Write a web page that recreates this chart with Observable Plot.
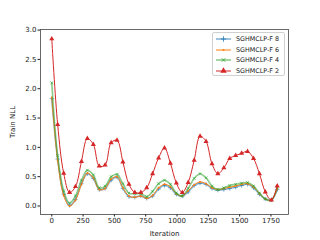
<!DOCTYPE html>
<html><head><meta charset="utf-8">
<script src="https://cdn.jsdelivr.net/npm/d3@7"></script>
<script src="https://cdn.jsdelivr.net/npm/@observablehq/plot@0.6"></script>
<style>
body{margin:0;background:#fff;}
#wrap{position:relative;width:320px;height:240px;font-family:"DejaVu Sans",sans-serif;}
#legend{position:absolute;left:212px;top:32px;width:73px;height:44px;border:0.8px solid #d0d0d0;border-radius:2px;background:rgba(255,255,255,0.85);font-size:6.4px;color:#222;box-sizing:border-box;}
.row{position:absolute;left:2px;height:10px;display:flex;align-items:center;white-space:nowrap;}
.row svg{margin-right:4px;}
</style></head><body><div id="wrap"></div>
<script>
const iterations = [0, 47, 95, 142, 189, 237, 284, 332, 379, 426, 474, 521, 568, 616, 663, 711, 758, 805, 853, 900, 947, 995, 1042, 1089, 1137, 1184, 1232, 1279, 1326, 1374, 1421, 1468, 1516, 1563, 1611, 1658, 1705, 1753, 1800];
const nllF8 = [1.83, 0.80, 0.20, 0.01, 0.11, 0.38, 0.55, 0.47, 0.28, 0.30, 0.44, 0.49, 0.30, 0.16, 0.15, 0.17, 0.13, 0.17, 0.29, 0.35, 0.31, 0.20, 0.17, 0.24, 0.35, 0.39, 0.37, 0.30, 0.27, 0.28, 0.30, 0.32, 0.35, 0.37, 0.31, 0.20, 0.12, 0.10, 0.28];
const nllF6 = [1.85, 0.78, 0.18, 0.00, 0.10, 0.37, 0.56, 0.48, 0.28, 0.30, 0.46, 0.50, 0.31, 0.17, 0.15, 0.17, 0.13, 0.18, 0.31, 0.37, 0.33, 0.21, 0.17, 0.26, 0.36, 0.41, 0.38, 0.31, 0.28, 0.30, 0.32, 0.34, 0.37, 0.38, 0.32, 0.21, 0.12, 0.10, 0.29];
const nllF4 = [2.10, 0.86, 0.26, 0.05, 0.17, 0.44, 0.61, 0.53, 0.31, 0.34, 0.50, 0.54, 0.38, 0.22, 0.21, 0.21, 0.16, 0.25, 0.38, 0.44, 0.37, 0.22, 0.17, 0.30, 0.47, 0.55, 0.48, 0.34, 0.28, 0.31, 0.35, 0.37, 0.39, 0.40, 0.34, 0.22, 0.12, 0.10, 0.31];
const nllF2 = [2.85, 1.39, 0.56, 0.23, 0.33, 0.76, 1.15, 1.05, 0.68, 0.70, 1.08, 1.12, 0.75, 0.37, 0.23, 0.23, 0.31, 0.55, 0.82, 0.99, 0.73, 0.39, 0.23, 0.40, 0.78, 1.19, 1.10, 0.72, 0.55, 0.65, 0.81, 0.86, 0.90, 0.93, 0.81, 0.55, 0.24, 0.10, 0.34];
const seriesNames = ["SGHMCLP-F 8", "SGHMCLP-F 6", "SGHMCLP-F 4", "SGHMCLP-F 2"];
const seriesColors = ["#1f77b4", "#ff7f0e", "#2ca02c", "#d62728"];
const seriesSymbols = ["plus", "circle", "times", "triangle"];
const xTicks = [0, 250, 500, 750, 1000, 1250, 1500, 1750];
const yTicks = [0, 0.5, 1.0, 1.5, 2.0, 2.5, 3.0];

const seriesValues = [nllF8, nllF6, nllF4, nllF2];
const styles = [
  {w: 1.6, op: 0.55, r: 1.5, fill: false},
  {w: 1.0, op: 1, r: 1.0, fill: true},
  {w: 1.6, op: 0.55, r: 1.4, fill: false},
  {w: 1.0, op: 1, r: 1.9, fill: true}
];
const tables = seriesValues.map((vals, s) => iterations.map((it, i) => ({it, v: vals[i], s: seriesNames[s]})));

const marks = [];
tables.forEach((t, s) => {
  const st = styles[s];
  marks.push(Plot.line(t, {x: "it", y: "v", stroke: seriesColors[s], strokeWidth: st.w, strokeOpacity: st.op, curve: "catmull-rom"}));
  marks.push(Plot.dot(t, st.fill
    ? {x: "it", y: "v", fill: seriesColors[s], r: st.r, symbol: seriesSymbols[s], stroke: "none"}
    : {x: "it", y: "v", stroke: seriesColors[s], strokeWidth: 0.8, strokeOpacity: 0.75, r: st.r, symbol: seriesSymbols[s]}));
});

const chart = Plot.plot({
  width: 320, height: 240,
  marginLeft: 40, marginRight: 32, marginTop: 29, marginBottom: 26,
  style: {fontFamily: "DejaVu Sans, sans-serif", fontSize: "7px", color: "#222", background: "#fff"},
  x: {domain: [-90, 1890]},
  y: {domain: [-0.145, 3.01]},
  marks: [
    Plot.axisX({ticks: xTicks, tickFormat: d => String(d), tickSize: 2.5, tickPadding: 1.5, fontSize: 7, label: "Iteration", labelAnchor: "center", labelArrow: "none", labelOffset: 21}),
    Plot.axisY({ticks: yTicks, tickFormat: d3.format(".1f"), tickSize: 2.5, tickPadding: 1.5, fontSize: 7, label: "Train NLL", labelAnchor: "center", labelArrow: "none", labelOffset: 30}),
    ...marks,
    Plot.frame({stroke: "#444", strokeWidth: 0.8})
  ]
});
const wrap = document.getElementById("wrap");
wrap.appendChild(chart);

const legend = document.createElement("div");
legend.id = "legend";
seriesNames.forEach((name, s) => {
  const st = styles[s];
  const row = document.createElement("div");
  row.className = "row";
  row.style.top = (1 + s * 10.7) + "px";
  const symType = {plus: d3.symbolPlus, circle: d3.symbolCircle, times: d3.symbolTimes, triangle: d3.symbolTriangle}[seriesSymbols[s]];
  const path = d3.symbol(symType, Math.PI * st.r * st.r * (seriesSymbols[s] === "circle" ? 1 : 1.6))();
  const markerAttr = st.fill ? `fill="${seriesColors[s]}"` : `fill="none" stroke="${seriesColors[s]}" stroke-width="0.8"`;
  row.innerHTML = `<svg width="17" height="8"><line x1="1" x2="16" y1="4" y2="4" stroke="${seriesColors[s]}" stroke-width="${st.w}" stroke-opacity="${st.op}"/><path transform="translate(8.5,4)" d="${path}" ${markerAttr}/></svg><span>${name}</span>`;
  legend.appendChild(row);
});
wrap.appendChild(legend);
</script></body></html>
